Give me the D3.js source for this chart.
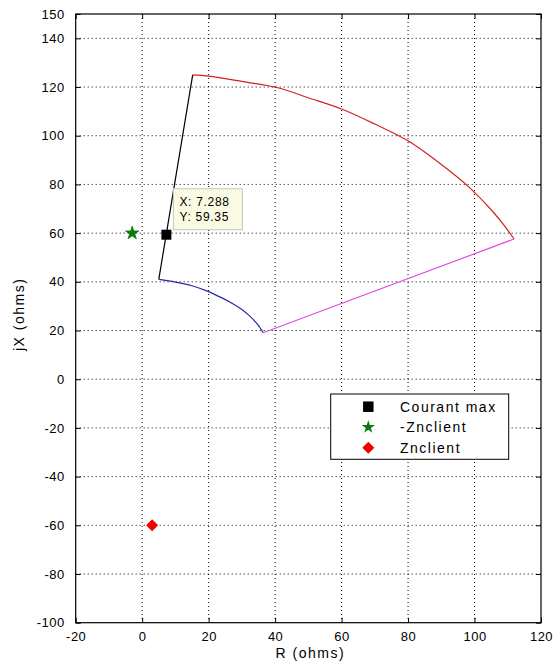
<!DOCTYPE html>
<html><head><meta charset="utf-8">
<script src="https://cdn.jsdelivr.net/npm/d3@7"></script>
<style>
body{margin:0;background:#fff;}
svg{display:block;}
text{font-family:Arial,"Liberation Sans",sans-serif;fill:#000;}
</style></head>
<body>
<svg id="chart" width="554" height="664"></svg>
<script>
// ---- data ----
const xTicks = [-20, 0, 20, 40, 60, 80, 100, 120];
const yTicks = [-100, -80, -60, -40, -20, 0, 20, 40, 60, 80, 100, 120, 140, 150];
// black boundary (R, X)
const blackR = [5.0, 15.2];
const blackX = [41.0, 125.0];
// red outer arc
const redR = [15.2, 19.9, 30.0, 41.4, 50.0, 60.0, 70.0, 80.1, 90.0, 97.6, 105.0, 108.8, 111.9];
const redX = [125.0, 124.5, 122.3, 119.5, 115.6, 111.0, 104.8, 97.8, 88.2, 79.8, 69.6, 63.4, 57.6];
// magenta boundary
const magR = [36.4, 111.9];
const magX = [19.1, 57.6];
// blue inner arc
const blueR = [5.0, 10.0, 15.0, 19.4, 24.0, 27.4, 30.0, 32.4, 34.6, 36.4];
const blueX = [41.0, 39.9, 38.4, 36.3, 33.4, 30.9, 28.6, 25.9, 22.7, 19.1];
// markers
const courantMax = {r: 7.288, x: 59.35};
const negZnclient = {r: -3, x: 60};
const znclient = {r: 3, x: -60};
const legendLabels = ["Courant max", "-Znclient", "Znclient"];
const tipLines = ["X: 7.288", "Y: 59.35"];

// ---- layout ----
const svg = d3.select("#chart");
const L = 75.7, R = 541, T = 14, B = 622.7;
const x = d3.scaleLinear().domain([-20, 120]).range([L, R]);
const y = d3.scaleLinear().domain([-100, 150]).range([B, T]);

// grid
const grid = svg.append("g");
xTicks.filter(d => d > -20 && d < 120).forEach(d => {
  grid.append("line").attr("x1", x(d)).attr("x2", x(d)).attr("y1", T).attr("y2", B)
    .attr("stroke", "#000").attr("stroke-width", 1).attr("stroke-dasharray", "1,3");
});
yTicks.filter(d => d > -100 && d < 150).forEach(d => {
  grid.append("line").attr("x1", L).attr("x2", R).attr("y1", y(d)).attr("y2", y(d))
    .attr("stroke", "#000").attr("stroke-width", 1).attr("stroke-dasharray", "1,3");
});

// axes (ticks inside)
const tk = 5;
const fmt = d => String(d);
const axB = d3.axisBottom(x).tickValues(xTicks).tickSize(-tk).tickPadding(9).tickFormat(fmt);
const axT = d3.axisTop(x).tickValues(xTicks).tickSize(-tk).tickFormat("");
const axL = d3.axisLeft(y).tickValues(yTicks).tickSize(-tk).tickPadding(11).tickFormat(fmt);
const axR = d3.axisRight(y).tickValues(yTicks).tickSize(-tk).tickFormat("");
function style(g){
  g.select(".domain").remove();
  g.selectAll(".tick line").attr("stroke", "#000");
  g.selectAll("text").attr("font-size", 13).attr("letter-spacing", "0.5px").attr("fill", "#000")
    .style("font-family", "Arial, 'Liberation Sans', sans-serif");
}
svg.append("g").attr("transform", `translate(0,${B})`).call(axB).call(style);
svg.append("g").attr("transform", `translate(0,${T})`).call(axT).call(style);
svg.append("g").attr("transform", `translate(${L},0)`).call(axL).call(style);
svg.append("g").attr("transform", `translate(${R},0)`).call(axR).call(style);
svg.append("rect").attr("x", L).attr("y", T).attr("width", R - L).attr("height", B - T)
  .attr("fill", "none").attr("stroke", "#000").attr("stroke-width", 1.2);

// axis labels
svg.append("text").attr("x", (L + R) / 2 + 2).attr("y", 657.5).attr("text-anchor", "middle")
  .attr("font-size", 14).attr("letter-spacing", "1.5px").text("R (ohms)");
svg.append("text").attr("transform", `translate(24,${(T + B) / 2 - 4}) rotate(-90)`)
  .attr("text-anchor", "middle").attr("font-size", 14).attr("letter-spacing", "1.5px").text("jX (ohms)");

// boundary lines
const line = d3.line().x(d => x(d[0])).y(d => y(d[1]));
const curve = d3.line().x(d => x(d[0])).y(d => y(d[1])).curve(d3.curveCatmullRom);
const zip = (a, b) => a.map((v, i) => [v, b[i]]);
svg.append("path").attr("d", line(zip(blackR, blackX))).attr("fill", "none").attr("stroke", "#000").attr("stroke-width", 1.2);
svg.append("path").attr("d", curve(zip(redR, redX))).attr("fill", "none").attr("stroke", "#d42020").attr("stroke-width", 1.2);
svg.append("path").attr("d", line(zip(magR, magX))).attr("fill", "none").attr("stroke", "#e050e0").attr("stroke-width", 1.2);
svg.append("path").attr("d", curve(zip(blueR, blueX))).attr("fill", "none").attr("stroke", "#2a2ab0").attr("stroke-width", 1.2);

// markers
const sq = d3.symbol().type(d3.symbolSquare).size(100);
const star = d3.symbol().type(d3.symbolStar).size(55);
const dia = d3.symbol().type(d3.symbolSquare).size(72);
svg.append("path").attr("d", sq()).attr("transform", `translate(${x(courantMax.r)},${y(courantMax.x)})`).attr("fill", "#000");
svg.append("path").attr("d", star()).attr("transform", `translate(${x(negZnclient.r)},${y(negZnclient.x)})`).attr("fill", "#0a7a0a").attr("stroke", "#0a7a0a").attr("stroke-width", 0.8);
svg.append("path").attr("d", dia()).attr("transform", `translate(${x(znclient.r)},${y(znclient.x)}) rotate(45)`).attr("fill", "#f00000");

// data tip
const px = x(courantMax.r), py = y(courantMax.x);
const tip = svg.append("g").attr("transform", `translate(${px + 7},${py - 46})`);
tip.append("rect").attr("width", 69).attr("height", 41).attr("fill", "#fbfbe4").attr("stroke", "#c8c8b0").attr("stroke-width", 1);
tipLines.forEach((t, i) => {
  tip.append("text").attr("x", 6).attr("y", 17 + i * 15).attr("font-size", 12).attr("letter-spacing", "0.7px").text(t);
});

// legend
const lg = svg.append("g").attr("transform", "translate(330.7,394)");
lg.append("rect").attr("width", 178).attr("height", 65.3).attr("fill", "#fff").attr("stroke", "#000").attr("stroke-width", 1);
const lsyms = [
  {p: d3.symbol().type(d3.symbolSquare).size(110)(), c: "#000", rot: 0},
  {p: d3.symbol().type(d3.symbolStar).size(55)(), c: "#0a7a0a", rot: 0},
  {p: d3.symbol().type(d3.symbolSquare).size(72)(), c: "#f00000", rot: 45}
];
legendLabels.forEach((t, i) => {
  const cy = 12.7 + i * 20.5;
  lg.append("path").attr("d", lsyms[i].p).attr("transform", `translate(37.6,${cy}) rotate(${lsyms[i].rot})`).attr("fill", lsyms[i].c);
  lg.append("text").attr("x", 69.3).attr("y", cy + 5).attr("font-size", 14).attr("letter-spacing", "1.5px").text(t);
});
</script>
</body></html>
